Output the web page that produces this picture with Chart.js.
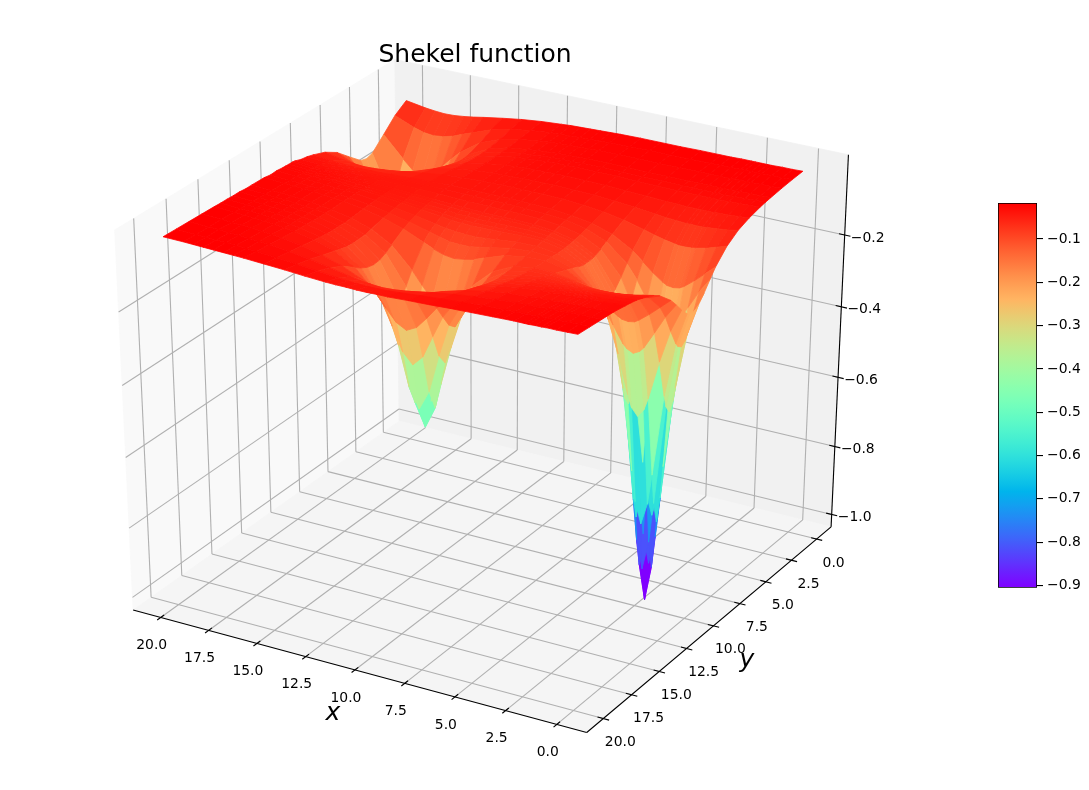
<!DOCTYPE html>
<html>
<head>
<meta charset="utf-8">
<title>Shekel function</title>
<script src="https://cdn.jsdelivr.net/npm/chart.js@4"></script>
<style>
  html, body { margin: 0; background: #fff; }
  #main { position: absolute; left: 0; top: 0; }
  #bar { position: absolute; left: 990px; top: 190px; }
</style>
</head>
<body>
<canvas id="main" width="1089" height="790"></canvas>
<canvas id="bar" width="99" height="410"></canvas>
<script>
// surface grid (finer around the wells)
const xValues = [0,.5,1,1.5,1.7,2,2.3,2.5,3,3.5,4,5,6,7,8,9,9.5,10,10.5,11,11.5,12,13,14,15,16,16.5,17,17.5,18,18.5,19,20];
const yValues = [0,1,2,3,3.5,4,5,6,7,8,8.5,9,9.5,9.7,10,10.3,10.5,11,11.5,12,13,13.5,14,14.5,15,15.5,16,17,18,19,20];
const zRow00 = [-.013,-.014,-.014,-.015,-.015,-.015,-.015,-.015,-.015,-.016,-.016,-.016,-.017,-.017,-.017,-.018,-.019,-.020,-.021,-.022,-.023,-.025,-.029,-.035,-.043,-.052,-.057,-.061,-.064,-.065,-.063,-.060,-.051];
const zRow01 = [-.015,-.016,-.016,-.017,-.017,-.017,-.017,-.017,-.018,-.018,-.018,-.019,-.019,-.019,-.020,-.021,-.022,-.023,-.024,-.025,-.027,-.028,-.034,-.042,-.055,-.075,-.085,-.096,-.103,-.106,-.103,-.095,-.073];
const zRow02 = [-.018,-.019,-.019,-.020,-.020,-.020,-.020,-.021,-.021,-.021,-.021,-.021,-.022,-.021,-.021,-.022,-.023,-.024,-.025,-.026,-.028,-.031,-.038,-.050,-.071,-.108,-.134,-.163,-.189,-.199,-.188,-.162,-.106];
const zRow03 = [-.022,-.023,-.023,-.024,-.024,-.024,-.025,-.025,-.025,-.025,-.025,-.025,-.025,-.024,-.024,-.024,-.025,-.026,-.027,-.029,-.031,-.034,-.041,-.056,-.083,-.140,-.190,-.258,-.331,-.364,-.330,-.257,-.138];
const zRow035 = [-.024,-.025,-.026,-.027,-.027,-.028,-.028,-.028,-.028,-.028,-.028,-.027,-.027,-.026,-.025,-.026,-.027,-.027,-.028,-.030,-.033,-.034,-.043,-.057,-.085,-.146,-.201,-.278,-.365,-.408,-.364,-.277,-.143];
const zRow04 = [-.027,-.028,-.029,-.030,-.031,-.031,-.031,-.031,-.031,-.031,-.031,-.030,-.029,-.027,-.027,-.027,-.028,-.028,-.029,-.031,-.033,-.035,-.043,-.057,-.084,-.141,-.191,-.259,-.331,-.365,-.330,-.257,-.138];
const zRow05 = [-.035,-.037,-.039,-.040,-.041,-.041,-.041,-.041,-.041,-.040,-.039,-.036,-.034,-.031,-.030,-.029,-.030,-.030,-.031,-.032,-.034,-.036,-.043,-.054,-.074,-.111,-.137,-.166,-.191,-.201,-.190,-.164,-.107];
const zRow06 = [-.047,-.052,-.055,-.058,-.059,-.059,-.059,-.059,-.057,-.055,-.052,-.046,-.041,-.037,-.035,-.034,-.034,-.034,-.035,-.036,-.037,-.037,-.042,-.049,-.061,-.080,-.090,-.100,-.107,-.109,-.106,-.098,-.075];
const zRow07 = [-.068,-.077,-.086,-.092,-.094,-.095,-.095,-.093,-.088,-.081,-.073,-.059,-.049,-.043,-.039,-.037,-.037,-.037,-.037,-.037,-.038,-.038,-.041,-.045,-.052,-.060,-.064,-.067,-.069,-.070,-.068,-.064,-.054];
const zRow08 = [-.102,-.127,-.152,-.174,-.180,-.183,-.181,-.175,-.155,-.131,-.108,-.076,-.059,-.050,-.045,-.043,-.042,-.041,-.041,-.041,-.041,-.041,-.041,-.043,-.045,-.047,-.049,-.049,-.050,-.049,-.048,-.046,-.041];
const zRow085 = [-.126,-.165,-.213,-.260,-.272,-.281,-.273,-.261,-.216,-.169,-.132,-.086,-.063,-.052,-.047,-.045,-.044,-.044,-.043,-.043,-.043,-.042,-.042,-.042,-.042,-.043,-.044,-.044,-.044,-.043,-.042,-.040,-.036];
const zRow09 = [-.151,-.213,-.304,-.411,-.444,-.466,-.446,-.412,-.307,-.218,-.158,-.095,-.068,-.056,-.050,-.048,-.048,-.048,-.047,-.047,-.047,-.045,-.043,-.042,-.041,-.041,-.041,-.040,-.040,-.039,-.038,-.036,-.033];
const zRow095 = [-.173,-.259,-.410,-.636,-.720,-.781,-.721,-.638,-.414,-.266,-.180,-.102,-.072,-.060,-.055,-.054,-.054,-.054,-.053,-.052,-.051,-.050,-.047,-.045,-.042,-.040,-.039,-.038,-.036,-.035,-.033,-.031,-.027];
const zRow097 = [-.178,-.272,-.443,-.720,-.833,-.914,-.834,-.722,-.447,-.278,-.186,-.104,-.073,-.061,-.057,-.055,-.055,-.056,-.056,-.055,-.054,-.052,-.049,-.045,-.041,-.039,-.037,-.036,-.035,-.033,-.031,-.030,-.026];
const zRow10 = [-.181,-.280,-.465,-.780,-.914,-1.012,-.915,-.781,-.469,-.287,-.189,-.105,-.075,-.063,-.059,-.059,-.060,-.060,-.060,-.059,-.058,-.055,-.051,-.047,-.042,-.039,-.037,-.036,-.034,-.032,-.031,-.029,-.026];
const zRow103 = [-.179,-.272,-.444,-.721,-.834,-.915,-.835,-.723,-.448,-.280,-.187,-.105,-.075,-.064,-.062,-.063,-.064,-.064,-.064,-.063,-.061,-.058,-.053,-.048,-.042,-.038,-.037,-.035,-.033,-.032,-.030,-.028,-.025];
const zRow105 = [-.173,-.260,-.410,-.636,-.721,-.781,-.722,-.638,-.415,-.267,-.182,-.105,-.076,-.066,-.064,-.066,-.067,-.068,-.068,-.067,-.065,-.061,-.054,-.048,-.042,-.038,-.036,-.034,-.033,-.031,-.029,-.028,-.025];
const zRow11 = [-.152,-.215,-.305,-.412,-.445,-.467,-.447,-.414,-.309,-.222,-.162,-.100,-.076,-.069,-.070,-.076,-.079,-.081,-.081,-.079,-.076,-.071,-.060,-.051,-.043,-.037,-.035,-.033,-.031,-.029,-.028,-.026,-.023];
const zRow115 = [-.127,-.166,-.215,-.262,-.274,-.283,-.275,-.264,-.219,-.173,-.137,-.093,-.075,-.072,-.076,-.087,-.092,-.097,-.097,-.096,-.089,-.082,-.067,-.055,-.045,-.038,-.035,-.033,-.031,-.030,-.028,-.027,-.024];
const zRow12 = [-.104,-.129,-.154,-.176,-.183,-.186,-.184,-.178,-.159,-.137,-.115,-.086,-.075,-.076,-.085,-.104,-.114,-.120,-.124,-.120,-.111,-.099,-.075,-.058,-.046,-.037,-.034,-.032,-.029,-.027,-.026,-.024,-.021];
const zRow13 = [-.070,-.081,-.088,-.095,-.097,-.098,-.099,-.098,-.094,-.088,-.082,-.073,-.071,-.080,-.106,-.157,-.190,-.221,-.234,-.220,-.187,-.152,-.097,-.066,-.049,-.038,-.034,-.031,-.028,-.026,-.024,-.023,-.020];
const zRow135 = [-.058,-.064,-.070,-.075,-.076,-.077,-.077,-.077,-.076,-.073,-.070,-.066,-.069,-.083,-.116,-.190,-.249,-.310,-.339,-.309,-.247,-.186,-.108,-.071,-.051,-.038,-.034,-.031,-.029,-.026,-.025,-.023,-.020];
const zRow14 = [-.050,-.054,-.058,-.061,-.062,-.063,-.064,-.064,-.064,-.063,-.062,-.062,-.068,-.084,-.123,-.222,-.310,-.416,-.470,-.414,-.308,-.217,-.116,-.072,-.050,-.038,-.033,-.030,-.027,-.025,-.023,-.021,-.018];
const zRow145 = [-.043,-.046,-.050,-.052,-.053,-.054,-.054,-.055,-.055,-.055,-.056,-.057,-.065,-.084,-.125,-.235,-.339,-.470,-.530,-.469,-.336,-.231,-.118,-.073,-.050,-.037,-.033,-.029,-.027,-.024,-.023,-.021,-.018];
const zRow15 = [-.037,-.040,-.042,-.044,-.045,-.046,-.047,-.047,-.048,-.049,-.050,-.053,-.062,-.080,-.120,-.219,-.309,-.414,-.468,-.413,-.306,-.216,-.114,-.071,-.049,-.036,-.032,-.029,-.026,-.024,-.022,-.020,-.017];
const zRow155 = [-.033,-.035,-.037,-.039,-.039,-.040,-.041,-.041,-.042,-.043,-.044,-.049,-.058,-.075,-.110,-.186,-.245,-.307,-.335,-.306,-.243,-.183,-.105,-.067,-.047,-.035,-.031,-.028,-.025,-.023,-.021,-.020,-.017];
const zRow16 = [-.030,-.031,-.033,-.034,-.035,-.036,-.036,-.037,-.038,-.040,-.041,-.046,-.054,-.069,-.098,-.151,-.185,-.216,-.230,-.215,-.183,-.148,-.093,-.061,-.044,-.034,-.030,-.027,-.024,-.022,-.020,-.019,-.016];
const zRow17 = [-.024,-.026,-.027,-.028,-.029,-.029,-.030,-.030,-.032,-.033,-.035,-.039,-.046,-.057,-.072,-.094,-.106,-.114,-.117,-.113,-.104,-.092,-.068,-.051,-.038,-.030,-.027,-.024,-.022,-.020,-.019,-.017,-.015];
const zRow18 = [-.021,-.021,-.022,-.023,-.024,-.024,-.025,-.025,-.027,-.028,-.029,-.033,-.038,-.045,-.053,-.063,-.067,-.070,-.071,-.069,-.066,-.061,-.050,-.040,-.033,-.026,-.024,-.022,-.020,-.019,-.017,-.016,-.014];
const zRow19 = [-.018,-.018,-.019,-.020,-.020,-.021,-.021,-.022,-.023,-.024,-.025,-.027,-.031,-.035,-.039,-.044,-.046,-.047,-.047,-.046,-.045,-.043,-.037,-.032,-.027,-.023,-.021,-.019,-.018,-.017,-.016,-.015,-.013];
const zRow20 = [-.015,-.016,-.017,-.017,-.018,-.018,-.019,-.019,-.019,-.020,-.021,-.023,-.025,-.028,-.030,-.033,-.033,-.034,-.034,-.033,-.033,-.032,-.029,-.025,-.022,-.019,-.018,-.017,-.016,-.015,-.014,-.013,-.012];
const zRows = [zRow00,zRow01,zRow02,zRow03,zRow035,zRow04,zRow05,zRow06,zRow07,zRow08,zRow085,zRow09,zRow095,zRow097,zRow10,zRow103,
  zRow105,zRow11,zRow115,zRow12,zRow13,zRow135,zRow14,zRow145,zRow15,zRow155,zRow16,zRow17,zRow18,zRow19,zRow20];

const xTicks = [0,2.5,5,7.5,10,12.5,15,17.5,20];
const yTicks = [0,2.5,5,7.5,10,12.5,15,17.5,20];
const zTicks = [-1,-.8,-.6,-.4,-.2];
const barTicks = [-.9,-.8,-.7,-.6,-.5,-.4,-.3,-.2,-.1];

// axis limits of the box and of the colour scale
const xLim = [-1.45,21.45], yLim = [-1.45,21.45], zLim = [-1.037,.019];
const colorMin = -.905, colorMax = -.017;

// view of the box
const elev = 30 * Math.PI / 180, azim = 120 * Math.PI / 180, dist = 10;
const originX = 487.5, originY = 384.5, scaleX = 523.6, scaleY = 434;
const FONT = '"DejaVu Sans"';

const view = [Math.cos(elev) * Math.cos(azim), Math.cos(elev) * Math.sin(azim), Math.sin(elev)];
const right = [-Math.sin(azim), Math.cos(azim), 0];
const up = [
  view[1] * right[2] - view[2] * right[1],
  view[2] * right[0] - view[0] * right[2],
  view[0] * right[1] - view[1] * right[0]
];
const dot = (a, b) => a[0] * b[0] + a[1] * b[1] + a[2] * b[2];
const unit = (x, y, z) => [
  (x - xLim[0]) / (xLim[1] - xLim[0]) - .5,
  (y - yLim[0]) / (yLim[1] - yLim[0]) - .5,
  (z - zLim[0]) / (zLim[1] - zLim[0]) - .5
];
function project(x, y, z) {
  const p = unit(x, y, z);
  const f = dist / (dist - dot(view, p));
  return { x: originX + scaleX * f * dot(right, p), y: originY - scaleY * f * dot(up, p) };
}
const depth = (x, y, z) => dot(view, unit(x, y, z));

function rainbow(t) {
  t = Math.min(1, Math.max(0, t));
  const r = Math.min(1, Math.abs(2 * t - .5)), g = Math.sin(Math.PI * t), b = Math.cos(Math.PI * t / 2);
  return `rgb(${Math.round(r * 255)},${Math.round(g * 255)},${Math.round(b * 255)})`;
}

const polygon = (corners, color) => ({
  data: corners.concat([corners[0]]).map(c => project(c[0], c[1], c[2])),
  showLine: true, fill: 'shape', backgroundColor: color, borderColor: color,
  borderWidth: .8, pointRadius: 0, tension: 0, clip: false
});
const line = (from, to, color, width) => ({
  data: [project(from[0], from[1], from[2]), project(to[0], to[1], to[2])],
  showLine: true, fill: false, borderColor: color, borderWidth: width, pointRadius: 0, clip: false
});

// paint order: panes, grid, axes, then surface far to near
const layers = [];
const [x0, x1] = xLim, [y0, y1] = yLim, [z0, z1] = zLim;
layers.push(polygon([[x1,y0,z0],[x1,y1,z0],[x1,y1,z1],[x1,y0,z1]], '#f9f9f9'));
layers.push(polygon([[x0,y0,z0],[x1,y0,z0],[x1,y0,z1],[x0,y0,z1]], '#f1f1f1'));
layers.push(polygon([[x0,y0,z0],[x1,y0,z0],[x1,y1,z0],[x0,y1,z0]], '#f5f5f5'));
const GRID = '#b0b0b0';
xTicks.forEach(x => {
  layers.push(line([x,y1,z0], [x,y0,z0], GRID, 1.1));
  layers.push(line([x,y0,z0], [x,y0,z1], GRID, 1.1));
});
yTicks.forEach(y => {
  layers.push(line([x0,y,z0], [x1,y,z0], GRID, 1.1));
  layers.push(line([x1,y,z0], [x1,y,z1], GRID, 1.1));
});
zTicks.forEach(z => {
  layers.push(line([x1,y1,z], [x1,y0,z], GRID, 1.1));
  layers.push(line([x1,y0,z], [x0,y0,z], GRID, 1.1));
});
layers.push(line([x1,y1,z0], [x0,y1,z0], '#000', 1.1));
layers.push(line([x0,y1,z0], [x0,y0,z0], '#000', 1.1));
layers.push(line([x0,y0,z0], [x0,y0,z1], '#000', 1.1));
const TICK = .28;
xTicks.forEach(x => layers.push(line([x,y1-TICK,z0], [x,y1+TICK,z0], '#000', 1.1)));
yTicks.forEach(y => layers.push(line([x0-TICK,y,z0], [x0+TICK,y,z0], '#000', 1.1)));
zTicks.forEach(z => layers.push(line([x0-TICK,y0,z], [x0+TICK,y0,z], '#000', 1.1)));

const cells = [];
for (let j = 0; j + 1 < yValues.length; j++) {
  for (let i = 0; i + 1 < xValues.length; i++) {
    const corners = [[i,j],[i+1,j],[i+1,j+1],[i,j+1]].map(c => [xValues[c[0]], yValues[c[1]], zRows[c[1]][c[0]]]);
    const meanZ = corners.reduce((s, c) => s + c[2], 0) / 4;
    const meanDepth = corners.reduce((s, c) => s + depth(c[0], c[1], c[2]), 0) / 4;
    cells.push({ corners, meanZ, meanDepth });
  }
}
cells.sort((a, b) => a.meanDepth - b.meanDepth);
cells.forEach(c => layers.push(polygon(c.corners, rainbow((c.meanZ - colorMin) / (colorMax - colorMin)))));

const fmt = v => v.toFixed(1).replace('-', '\u2212');

// tick labels, axis names and title
const textPlugin = {
  id: 'boxText',
  afterDraw(chart) {
    const { ctx, scales } = chart;
    const px = p => ({ x: scales.x.getPixelForValue(p.x), y: scales.y.getPixelForValue(p.y) });
    ctx.save();
    ctx.fillStyle = '#000';
    ctx.textAlign = 'center';
    ctx.textBaseline = 'middle';
    ctx.font = `13.9px ${FONT}`;
    xTicks.forEach(x => {
      const p = px(project(x, y1, z0));
      ctx.fillText(x.toFixed(1), p.x - 9, p.y + 28);
    });
    yTicks.forEach(y => {
      const p = px(project(x0, y, z0));
      ctx.fillText(y.toFixed(1), p.x + 17, p.y + 24);
    });
    zTicks.forEach(z => {
      const p = px(project(x0, y0, z));
      ctx.fillText(fmt(z), p.x + 23, p.y + 3);
    });
    ctx.font = `italic 25px ${FONT}`;
    ctx.fillText('x', 333, 713);
    ctx.fillText('y', 747, 660);
    ctx.font = `25px ${FONT}`;
    ctx.fillText('Shekel function', 475, 55);
    ctx.restore();
  }
};

new Chart(document.getElementById('main'), {
  type: 'scatter',
  data: { datasets: layers.reverse() },
  options: {
    responsive: false, animation: false, events: [],
    layout: { padding: 0 },
    plugins: { legend: { display: false }, tooltip: { enabled: false } },
    scales: {
      x: { type: 'linear', display: false, min: 0, max: 1089 },
      y: { type: 'linear', display: false, min: 0, max: 790, reverse: true }
    }
  },
  plugins: [textPlugin]
});

// colour bar
function barFill(context) {
  const area = context.chart.chartArea;
  if (!area) return '#f00';
  const g = context.chart.ctx.createLinearGradient(0, area.bottom, 0, area.top);
  for (let i = 0; i <= 64; i++) g.addColorStop(i / 64, rainbow(i / 64));
  return g;
}
new Chart(document.getElementById('bar'), {
  type: 'bar',
  data: {
    labels: [''],
    datasets: [{
      data: [[colorMin, colorMax]],
      backgroundColor: barFill, borderColor: '#000', borderWidth: 1.1, borderSkipped: false,
      barPercentage: 1, categoryPercentage: 1
    }]
  },
  options: {
    responsive: false, animation: false, events: [],
    layout: { padding: { left: 8, top: 13, bottom: 12, right: 0 } },
    plugins: { legend: { display: false }, tooltip: { enabled: false } },
    scales: {
      x: { display: false },
      y: {
        position: 'right', min: colorMin, max: colorMax,
        afterBuildTicks: s => { s.ticks = barTicks.map(v => ({ value: v })); },
        afterFit: s => { s.width = 52; },
        border: { display: false },
        grid: { drawOnChartArea: false, drawTicks: true, tickLength: 6, color: '#000', lineWidth: 1.1 },
        ticks: { autoSkip: false, padding: 4, color: '#000', font: { family: 'DejaVu Sans', size: 13.9 }, callback: v => fmt(v) }
      }
    }
  }
});
</script>
</body>
</html>
